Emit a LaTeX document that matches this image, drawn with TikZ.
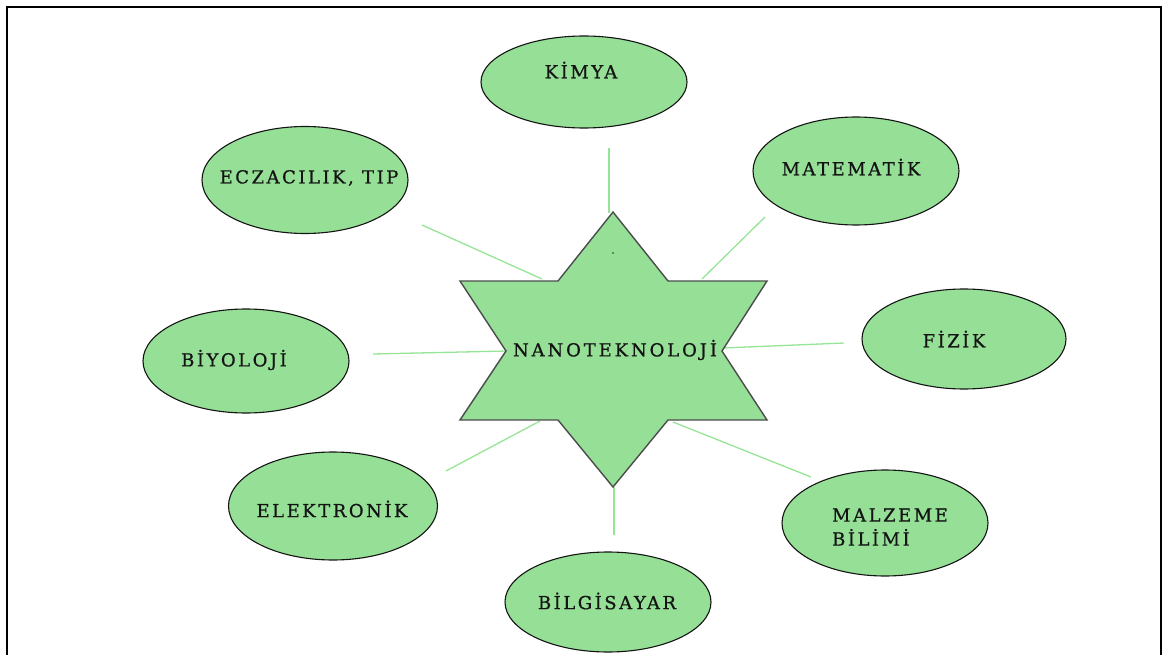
\documentclass[tikz,border=0pt]{standalone}
\usepackage{fontspec}
\usetikzlibrary{shapes.geometric}
\newfontfamily\lblfont[LetterSpace=14,FakeBold=0.7]{DejaVu Serif}
\definecolor{leaf}{RGB}{149,224,150}
\definecolor{wirecol}{RGB}{150,228,150}
\definecolor{ink}{RGB}{20,20,20}
\begin{document}
\begin{tikzpicture}[x=1pt,y=-1pt,
  topic/.style={ellipse,draw=ink,line width=1.1pt,fill=leaf,inner sep=0pt,minimum width=206pt,minimum height=104pt},
  lbl/.style={font=\lblfont\fontsize{18}{24}\selectfont,text=ink,align=left,inner sep=0pt},
  wire/.style={draw=wirecol,line width=1.3pt},
  starshape/.style={fill=leaf,draw=black!70,line width=1.4pt,line join=miter}]
\useasboundingbox (0,0) rectangle (1165,655);
\draw[line width=2pt] (6.5,662) -- (6.5,7.5) -- (1160.5,7.5) -- (1160.5,662);

% connector end points
\coordinate (kA) at (609,148);  \coordinate (kB) at (609,213);
\coordinate (eA) at (422,225);  \coordinate (eB) at (542,279);
\coordinate (mA) at (765,217);  \coordinate (mB) at (702,279);
\coordinate (fA) at (844,343);  \coordinate (fB) at (723,348);
\coordinate (bA) at (373,354);  \coordinate (bB) at (507,351);
\coordinate (lA) at (446,471);  \coordinate (lB) at (540,421);
\coordinate (zA) at (811,477);  \coordinate (zB) at (673,422);
\coordinate (gA) at (614,487);  \coordinate (gB) at (614,535);

\foreach \a/\b in {kA/kB,eA/eB,mA/mB,fA/fB,bA/bB,lA/lB,zA/zB,gA/gB}
  \path[wire] (\a) -- (\b);

% star
\coordinate (starc) at (613,350);
\path[starshape] (613,212) -- (668,281) -- (767,281) -- (722,351) -- (767,420) -- (668,420)
  -- (613,487) -- (558,420) -- (460,420) -- (506,351) -- (460,281) -- (558,281) -- cycle;
\fill[black!80] (613,253) circle (0.8);
\node[lbl,font=\lblfont\addfontfeature{LetterSpace=16}\fontsize{18}{24}\selectfont] (nano) at (615,350) {NANOTEKNOLOJİ};

% topics
\node[topic,minimum height=92pt] (kimya) at (584,82) {};
\node[lbl] (kimyat) at (581,70) {KİMYA};
\node[topic,minimum height=107pt] (ecz) at (305,180) {};
\node[lbl] (eczt) at (309,178) {ECZACILIK, TIP};
\node[topic,minimum height=108pt] (mat) at (856,171) {};
\node[lbl] (matt) at (851,167) {MATEMATİK};
\node[topic,minimum width=204pt,minimum height=100pt] (fiz) at (964,339) {};
\node[lbl] (fizt) at (954,339) {FİZİK};
\node[topic] (biy) at (246,361) {};
\node[lbl] (biyt) at (234,360) {BİYOLOJİ};
\node[topic,minimum width=209pt,minimum height=108pt] (elek) at (333,506) {};
\node[lbl] (elekt) at (332,509) {ELEKTRONİK};
\node[topic,minimum height=106pt] (malz) at (885,523) {};
\node[lbl] (malzt) at (890,527) {MALZEME\\BİLİMİ};
\node[topic,minimum height=100pt] (bilg) at (608,602) {};
\node[lbl] (bilgt) at (607,601) {BİLGİSAYAR};
\end{tikzpicture}
\end{document}
